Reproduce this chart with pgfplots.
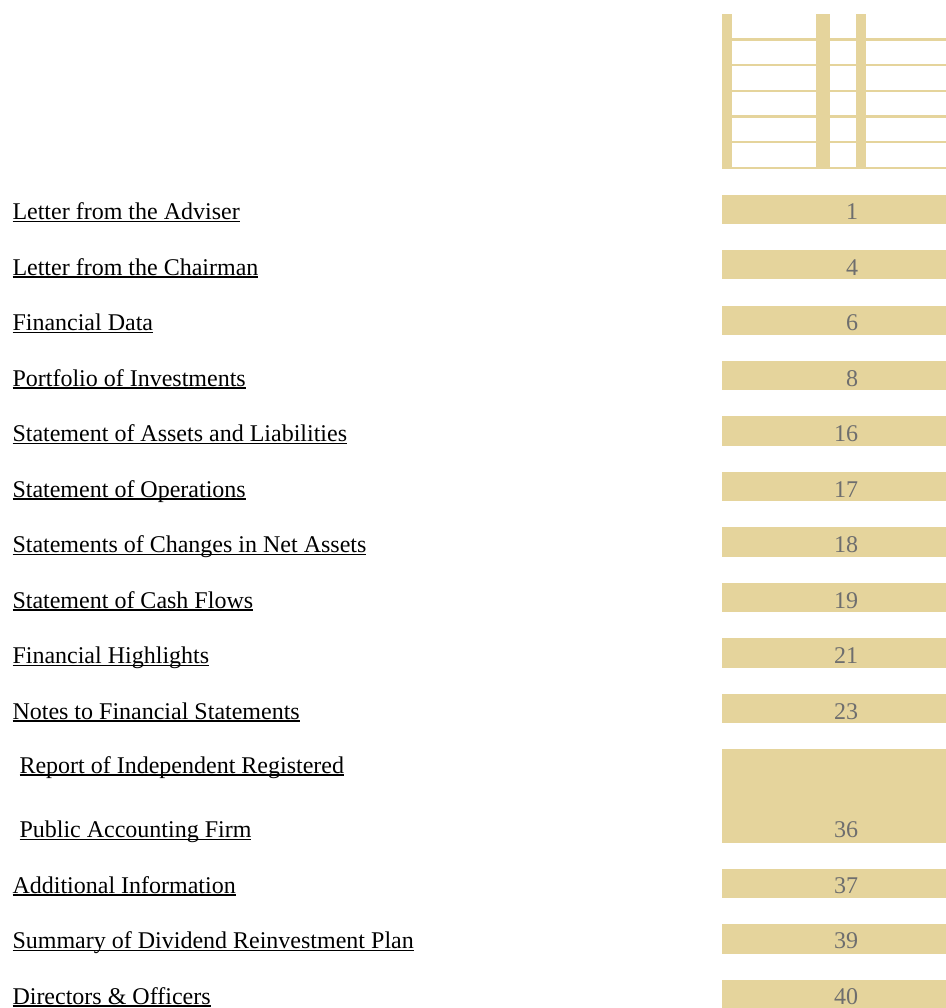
\documentclass[border=0pt]{standalone}
\usepackage{pgfplots}
\pgfplotsset{compat=1.18}
\usepackage{fontspec}
\setmainfont{Liberation Serif}
\definecolor{barc}{HTML}{E5D49C}
\definecolor{numc}{HTML}{6E6E6E}
\newcommand\ul[1]{\setbox0\hbox{#1}\rlap{\vrule width\wd0 height -1.3bp depth 2.9bp}\box0}
\tikzset{lab/.style={inner sep=0pt, outer sep=0pt, anchor=base west, font=\fontsize{24bp}{28bp}\selectfont},
         num/.style={inner sep=0pt, outer sep=0pt, anchor=base east, text=numc, font=\fontsize{24bp}{28bp}\selectfont}}
\begin{document}
\fontsize{24bp}{28bp}\selectfont
\begin{tikzpicture}
\begin{axis}[
  width=946bp, height=1008bp, scale only axis,
  xmin=0, xmax=946, ymin=0, ymax=1008, y dir=reverse,
  hide axis, clip=false,
]
% top decoration: vertical columns
\addplot[fill=barc, draw=none] coordinates {(722,14) (732,14) (732,169) (722,169)};
\addplot[fill=barc, draw=none] coordinates {(816,14) (830,14) (830,169) (816,169)};
\addplot[fill=barc, draw=none] coordinates {(856,14) (866,14) (866,169) (856,169)};
% top decoration: horizontal rules
\addplot[barc, line width=2.2bp] coordinates {(732,39.5) (946,39.5)};
\addplot[barc, line width=2.2bp] coordinates {(732,65) (946,65)};
\addplot[barc, line width=2.2bp] coordinates {(732,91) (946,91)};
\addplot[barc, line width=2.2bp] coordinates {(732,116.5) (946,116.5)};
\addplot[barc, line width=2.2bp] coordinates {(732,142) (946,142)};
\addplot[barc, line width=2.2bp] coordinates {(722,168) (946,168)};
% page-number bars (top, bottom)
\addplot[fill=barc, draw=none] coordinates {(722,195) (946,195) (946,224) (722,224)};
\addplot[fill=barc, draw=none] coordinates {(722,250) (946,250) (946,279) (722,279)};
\addplot[fill=barc, draw=none] coordinates {(722,306) (946,306) (946,335) (722,335)};
\addplot[fill=barc, draw=none] coordinates {(722,361) (946,361) (946,390) (722,390)};
\addplot[fill=barc, draw=none] coordinates {(722,416) (946,416) (946,446) (722,446)};
\addplot[fill=barc, draw=none] coordinates {(722,472) (946,472) (946,501) (722,501)};
\addplot[fill=barc, draw=none] coordinates {(722,527) (946,527) (946,557) (722,557)};
\addplot[fill=barc, draw=none] coordinates {(722,583) (946,583) (946,612) (722,612)};
\addplot[fill=barc, draw=none] coordinates {(722,638) (946,638) (946,668) (722,668)};
\addplot[fill=barc, draw=none] coordinates {(722,694) (946,694) (946,723) (722,723)};
\addplot[fill=barc, draw=none] coordinates {(722,749) (946,749) (946,843) (722,843)};
\addplot[fill=barc, draw=none] coordinates {(722,869) (946,869) (946,898) (722,898)};
\addplot[fill=barc, draw=none] coordinates {(722,924) (946,924) (946,954) (722,954)};
\addplot[fill=barc, draw=none] coordinates {(722,980) (946,980) (946,1008) (722,1008)};
% labels
\node[lab] at (axis cs:12.5,219.5) {\ul{Letter from the Adviser}};
\node[lab] at (axis cs:12.5,275) {\ul{Letter from the Chairman}};
\node[lab] at (axis cs:12.5,330.5) {\ul{Financial Data}};
\node[lab] at (axis cs:12.5,386) {\ul{Portfolio of Investments}};
\node[lab] at (axis cs:12.5,441.5) {\ul{Statement of Assets and Liabilities}};
\node[lab] at (axis cs:12.5,497) {\ul{Statement of Operations}};
\node[lab] at (axis cs:12.5,552.5) {\ul{Statements of Changes in Net Assets}};
\node[lab] at (axis cs:12.5,608) {\ul{Statement of Cash Flows}};
\node[lab] at (axis cs:12.5,663.5) {\ul{Financial Highlights}};
\node[lab] at (axis cs:12.5,719) {\ul{Notes to Financial Statements}};
\node[lab] at (axis cs:19.5,773) {\ul{Report of Independent Registered}};
\node[lab] at (axis cs:19.5,837.5) {\ul{Public Accounting Firm}};
\node[lab] at (axis cs:12.5,893) {\ul{Additional Information}};
\node[lab] at (axis cs:12.5,948.5) {\ul{Summary of Dividend Reinvestment Plan}};
\node[lab] at (axis cs:12.5,1004) {\ul{Directors \& Officers}};
% page numbers
\node[num] at (axis cs:858,219.5) {1};
\node[num] at (axis cs:858,275) {4};
\node[num] at (axis cs:858,330.5) {6};
\node[num] at (axis cs:858,386) {8};
\node[num] at (axis cs:858,441.5) {16};
\node[num] at (axis cs:858,497) {17};
\node[num] at (axis cs:858,552.5) {18};
\node[num] at (axis cs:858,608) {19};
\node[num] at (axis cs:858,663.5) {21};
\node[num] at (axis cs:858,719) {23};
\node[num] at (axis cs:858,837.5) {36};
\node[num] at (axis cs:858,893) {37};
\node[num] at (axis cs:858,948.5) {39};
\node[num] at (axis cs:858,1004) {40};
\end{axis}
\pgfresetboundingbox
\useasboundingbox (0,0) rectangle (946bp,1008bp);
\end{tikzpicture}
\end{document}
